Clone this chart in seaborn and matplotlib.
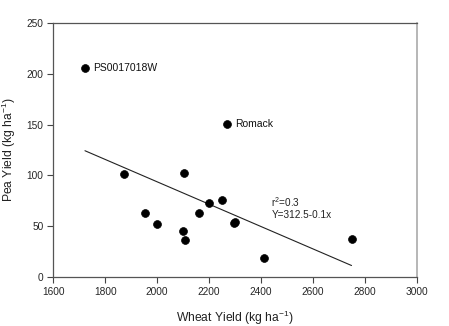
import matplotlib
matplotlib.use("Agg")
import matplotlib.pyplot as plt
import seaborn as sns
import pandas as pd

wheat_yield = [1722, 2270, 1873, 2105, 1953, 1998, 2099, 2108, 2163, 2198, 2251, 2296, 2301, 2412, 2749]
pea_yield = [206, 151, 101, 102, 63, 52, 45, 36, 63, 73, 76, 53, 54, 19, 37]
labels = {"PS0017018W": (1722, 206), "Romack": (2270, 151)}
x_ticks = [1600, 1800, 2000, 2200, 2400, 2600, 2800, 3000]
y_ticks = [0, 50, 100, 150, 200, 250]

df = pd.DataFrame({"wheat": wheat_yield, "pea": pea_yield})

sns.set_theme(style="ticks")
plt.rcParams["font.family"] = ["Liberation Sans", "DejaVu Sans"]
plt.rcParams["mathtext.default"] = "regular"

fig = plt.figure(figsize=(4.49, 3.26), dpi=100)
ax = fig.add_axes([0.1187, 0.150, 0.8093, 0.780])

sns.regplot(data=df, x="wheat", y="pea", ax=ax, ci=None, truncate=True,
            scatter_kws=dict(s=32, color="black", edgecolor="black", linewidths=0.5, alpha=1, zorder=3),
            line_kws=dict(color="#222222", lw=0.8))

for name, (xv, yv) in labels.items():
    ax.text(xv + 30, yv, name, fontsize=7.5, va="center", ha="left", color="#111111")

ax.text(2440, 74, "r$^2$=0.3", fontsize=7.2, va="center", ha="left", color="#222222")
ax.text(2440, 61, "Y=312.5-0.1x", fontsize=7.2, va="center", ha="left", color="#222222")

ax.set_xlim(1600, 3000)
ax.set_ylim(0, 250)
ax.set_xticks(x_ticks)
ax.set_yticks(y_ticks)
ax.tick_params(axis="both", labelsize=7.3, length=4, width=0.8, color="#444444", direction="out", pad=3)
ax.set_xlabel("Wheat Yield (kg ha$^{-1}$)", fontsize=8.7, color="#222222")
ax.set_ylabel("Pea Yield (kg ha$^{-1}$)", fontsize=8.7, color="#222222")
ax.xaxis.set_label_coords(0.4995, -0.125)
ax.yaxis.set_label_coords(-0.097, 0.5)
for side, sp in ax.spines.items():
    sp.set_visible(True)
    sp.set_linewidth(0.9)
    sp.set_color("#555555")
ax.spines["right"].set_color("#aaaaaa")
ax.spines["right"].set_linewidth(1.2)

fig.savefig("out.png", dpi=100)
